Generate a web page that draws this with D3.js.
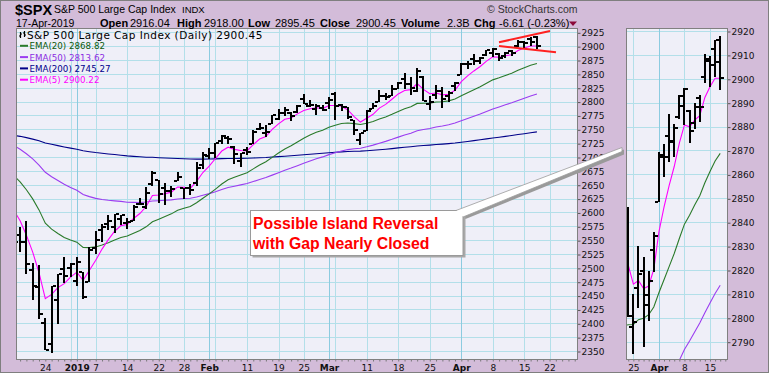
<!DOCTYPE html>
<html>
<head>
<meta charset="utf-8">
<script src="https://cdn.jsdelivr.net/npm/d3@7"></script>
<style>
html, body { margin: 0; padding: 0; background: #fff; }
svg { display: block; }
</style>
</head>
<body>
<div id="chart"></div>
<script>
// daily bars, Dec 17 2018 .. Apr 17 2019
var dates = ["2018-12-17","2018-12-18","2018-12-19","2018-12-20","2018-12-21","2018-12-24","2018-12-26","2018-12-27","2018-12-28","2018-12-31",
  "2019-01-02","2019-01-03","2019-01-04","2019-01-07","2019-01-08","2019-01-09","2019-01-10","2019-01-11","2019-01-14","2019-01-15","2019-01-16","2019-01-17","2019-01-18","2019-01-22","2019-01-23","2019-01-24","2019-01-25","2019-01-28","2019-01-29","2019-01-30","2019-01-31",
  "2019-02-01","2019-02-04","2019-02-05","2019-02-06","2019-02-07","2019-02-08","2019-02-11","2019-02-12","2019-02-13","2019-02-14","2019-02-15","2019-02-19","2019-02-20","2019-02-21","2019-02-22","2019-02-25","2019-02-26","2019-02-27","2019-02-28",
  "2019-03-01","2019-03-04","2019-03-05","2019-03-06","2019-03-07","2019-03-08","2019-03-11","2019-03-12","2019-03-13","2019-03-14","2019-03-15","2019-03-18","2019-03-19","2019-03-20","2019-03-21","2019-03-22","2019-03-25","2019-03-26","2019-03-27","2019-03-28","2019-03-29",
  "2019-04-01","2019-04-02","2019-04-03","2019-04-04","2019-04-05","2019-04-08","2019-04-09","2019-04-10","2019-04-11","2019-04-12","2019-04-15","2019-04-16","2019-04-17"];
// empty sessions still on the time axis
var futureDates = ["2019-04-18","2019-04-22","2019-04-23","2019-04-24","2019-04-25","2019-04-26"];

var open = [2590.75,2559.90,2547.05,2496.77,2465.38,2400.56,2363.12,2442.50,2498.77,2498.94,
  2476.96,2491.92,2474.33,2535.61,2568.11,2580.00,2573.51,2588.11,2580.31,2585.10,2614.75,2609.28,2651.27,2657.88,2643.48,2638.84,2657.44,2644.97,2644.89,2653.62,2685.49,
  2702.32,2706.49,2728.34,2735.05,2717.53,2692.36,2712.40,2722.61,2750.30,2743.50,2760.24,2769.28,2779.05,2780.24,2780.67,2804.35,2792.36,2787.50,2788.11,
  2798.22,2814.37,2794.41,2790.27,2766.53,2730.79,2747.61,2787.34,2799.78,2810.38,2810.79,2822.61,2840.76,2831.34,2819.72,2844.52,2796.01,2812.66,2819.72,2809.40,2828.27,
  2848.63,2868.24,2876.09,2873.99,2884.16,2888.46,2886.58,2881.37,2891.92,2900.86,2908.32,2912.26,2916.04];
var high = [2601.13,2573.99,2585.29,2509.63,2504.41,2410.34,2467.76,2489.10,2520.27,2509.24,
  2519.49,2493.14,2538.07,2566.16,2579.82,2595.32,2597.82,2596.27,2589.32,2613.08,2625.76,2645.06,2675.47,2657.88,2653.19,2647.20,2672.38,2644.97,2650.93,2690.44,2708.95,
  2716.66,2724.99,2738.98,2738.08,2719.32,2708.07,2718.05,2748.19,2761.85,2757.90,2775.66,2787.33,2789.88,2781.58,2794.20,2813.49,2803.12,2795.76,2793.73,
  2808.02,2816.88,2796.44,2790.27,2767.25,2744.13,2784.00,2798.32,2821.24,2815.00,2830.73,2835.41,2852.42,2843.54,2860.31,2846.16,2809.79,2829.87,2825.56,2819.71,2836.03,
  2869.40,2872.90,2885.25,2881.28,2893.24,2895.95,2886.88,2889.71,2893.42,2910.54,2909.60,2916.06,2918.00];
var low = [2530.54,2528.71,2488.96,2441.18,2408.55,2351.10,2346.58,2397.94,2472.89,2482.82,
  2467.47,2443.96,2474.33,2524.56,2547.56,2568.89,2562.02,2577.40,2570.41,2585.10,2612.68,2606.36,2647.58,2617.27,2612.86,2627.01,2657.33,2624.06,2631.05,2648.34,2678.65,
  2696.88,2698.75,2724.03,2724.15,2687.26,2681.83,2703.79,2722.61,2748.63,2736.50,2760.24,2767.29,2774.06,2764.55,2779.11,2794.99,2789.47,2775.13,2782.51,
  2787.38,2767.66,2782.97,2768.69,2739.09,2722.27,2747.61,2786.73,2799.78,2803.46,2810.79,2821.99,2823.27,2812.43,2817.38,2800.47,2785.02,2803.99,2787.72,2798.77,2819.23,
  2848.63,2858.75,2865.17,2867.14,2882.99,2880.78,2873.33,2879.13,2881.99,2898.37,2896.48,2900.71,2895.45];
var close = [2545.94,2546.16,2506.96,2467.42,2416.62,2351.10,2467.70,2488.83,2485.74,2506.85,
  2510.03,2447.89,2531.94,2549.69,2574.41,2584.96,2596.64,2596.26,2582.61,2610.30,2616.10,2635.96,2670.71,2632.90,2638.70,2642.33,2664.76,2643.85,2640.00,2681.05,2704.10,
  2706.53,2724.87,2737.70,2731.61,2706.05,2707.88,2709.80,2744.73,2753.03,2745.73,2775.60,2779.76,2784.70,2774.88,2792.67,2796.11,2793.90,2792.38,2784.49,
  2803.69,2792.81,2789.65,2771.45,2748.93,2743.07,2783.30,2791.52,2810.92,2808.48,2822.48,2832.94,2832.57,2824.23,2854.88,2800.71,2798.36,2818.46,2805.37,2815.44,2834.40,
  2867.19,2867.24,2873.40,2879.39,2892.74,2895.77,2878.20,2888.21,2888.32,2907.41,2905.58,2907.06,2900.45];

var ema5 = [2604.4,2585.0,2559.0,2528.5,2491.2,2444.5,2452.2,2464.4,2471.5,2483.3,
  2492.2,2477.4,2495.6,2513.6,2533.9,2550.9,2566.1,2576.2,2578.3,2589.0,2598.0,2610.7,2630.7,2631.4,2633.8,2636.6,2646.0,2645.3,2643.5,2656.0,2672.0,
  2683.5,2697.3,2710.8,2717.7,2713.8,2711.8,2711.1,2722.3,2732.5,2736.9,2749.8,2759.8,2768.1,2770.4,2777.8,2783.9,2787.2,2788.9,2787.4,
  2792.8,2792.8,2791.7,2784.9,2772.9,2763.0,2769.8,2777.0,2788.3,2795.0,2804.2,2813.8,2820.1,2821.5,2832.6,2822.0,2814.1,2815.6,2812.2,2813.3,2820.3,
  2835.9,2846.3,2855.3,2863.3,2873.1,2880.7,2879.9,2882.7,2884.6,2892.2,2896.7,2900.2,2900.2];
var ema20 = [2666.4,2655.0,2640.9,2624.4,2604.6,2580.5,2569.8,2562.1,2554.8,2550.2,
  2546.4,2537.0,2536.5,2537.8,2541.3,2545.5,2550.4,2554.8,2557.4,2562.4,2567.5,2574.0,2583.2,2587.9,2592.7,2597.4,2603.8,2607.6,2610.7,2617.4,2625.7,
  2633.4,2642.1,2651.2,2658.9,2663.4,2667.6,2671.6,2678.6,2685.7,2691.4,2699.4,2707.1,2714.5,2720.3,2727.2,2733.8,2739.5,2744.5,2748.3,
  2753.6,2757.3,2760.4,2761.4,2760.2,2758.6,2761.0,2763.9,2768.4,2772.2,2777.0,2782.3,2787.1,2790.6,2796.7,2797.1,2797.2,2799.2,2799.8,2801.3,2804.5,
  2810.5,2815.9,2821.4,2826.9,2833.2,2839.2,2842.9,2847.2,2851.1,2856.5,2861.2,2865.6,2868.8];
var ema50 = [2720.8,2714.0,2705.9,2696.5,2685.5,2672.4,2664.4,2657.5,2650.8,2645.2,
  2639.9,2632.4,2628.5,2625.4,2623.4,2621.9,2620.9,2619.9,2618.4,2618.1,2618.0,2618.7,2620.7,2621.2,2621.9,2622.7,2624.3,2625.1,2625.7,2627.9,2630.9,
  2633.9,2637.5,2641.4,2644.9,2647.3,2649.7,2652.1,2655.7,2659.5,2662.9,2667.3,2671.7,2676.1,2680.0,2684.4,2688.8,2692.9,2696.8,2700.2,
  2704.3,2707.8,2711.0,2713.4,2714.8,2715.9,2718.5,2721.4,2724.9,2728.2,2731.9,2735.9,2739.7,2743.0,2747.4,2749.5,2751.4,2754.0,2756.0,2758.3,2761.3,
  2765.5,2769.5,2773.6,2777.7,2782.2,2786.7,2790.3,2794.1,2797.8,2802.1,2806.2,2810.2,2813.6];
var ema200 = [2739.2,2737.3,2735.0,2732.3,2729.2,2725.4,2722.9,2720.5,2718.2,2716.1,
  2714.1,2711.4,2709.6,2708.0,2706.7,2705.5,2704.4,2703.3,2702.1,2701.2,2700.4,2699.7,2699.5,2698.8,2698.2,2697.7,2697.3,2696.8,2696.3,2696.1,2696.2,
  2696.3,2696.6,2697.0,2697.3,2697.4,2697.5,2697.7,2698.1,2698.7,2699.1,2699.9,2700.7,2701.5,2702.3,2703.2,2704.1,2705.0,2705.9,2706.7,
  2707.6,2708.5,2709.3,2709.9,2710.3,2710.6,2711.4,2712.2,2713.2,2714.1,2715.2,2716.4,2717.5,2718.6,2719.9,2720.7,2721.5,2722.5,2723.3,2724.2,2725.3,
  2726.7,2728.1,2729.6,2731.1,2732.7,2734.3,2735.7,2737.3,2738.8,2740.5,2742.1,2743.7,2745.3];

var priceTicks = [2350,2375,2400,2425,2450,2475,2500,2525,2550,2575,2600,2625,2650,2675,2700,2725,2750,2775,2800,2825,2850,2875,2900,2925];
var zoomTicks = [2790,2800,2810,2820,2830,2840,2850,2860,2870,2880,2890,2900,2910,2920];

var labelDates = ["2018-12-24","2019-01-02","2019-01-07","2019-01-14","2019-01-22","2019-01-28","2019-02-01","2019-02-11","2019-02-19","2019-02-25","2019-03-01","2019-03-11","2019-03-18","2019-03-25","2019-04-01","2019-04-08","2019-04-15","2019-04-22"];
var labelText = ["24","2019","7","14","22","28","Feb","11","19","25","Mar","11","18","25","Apr","8","15","22"];
var weekLines = ["2018-12-31","2019-01-07","2019-01-14","2019-01-22","2019-01-28","2019-02-04","2019-02-11","2019-02-19","2019-02-25","2019-03-04","2019-03-11","2019-03-18","2019-03-25","2019-04-08","2019-04-15","2019-04-22"];
var monthLines = ["2019-01-02","2019-02-01","2019-03-01","2019-04-01"];
var zoomLabelDates = ["2019-03-25","2019-04-01","2019-04-08","2019-04-15"];
var zoomLabelText = ["25","Apr","8","15"];
var boldLabels = ["2019","Feb","Mar","Apr"];

var emaNames = ["EMA(20) 2868.82","EMA(50) 2813.62","EMA(200) 2745.27","EMA(5) 2900.22"];
var emaColors = ["#2a7a2a","#9b3df0","#000088","#ff00ff"];
var emaTextColors = ["#0b5a0b","#8b2be2","#00008b","#ff00ff"];

var W = 770, H = 376;
var allDates = dates.concat(futureDates);
function k(d) { return allDates.indexOf(d); }

var svg = d3.select("#chart").append("svg")
    .attr("width", W)
    .attr("height", H);

svg.append("rect")
    .attr("x", 0.5).attr("y", 0.5)
    .attr("width", 768).attr("height", 372)
    .style("fill", "#d3bcd9")
    .style("stroke", "#7f7f7f");

var sans = "'Liberation Sans', Arial, sans-serif",
    verd = "'DejaVu Sans', Verdana, sans-serif";

// scales
var x = d3.scaleLinear().domain([0.35, 89.36]).range([16, 577]);
var y = d3.scaleLinear().domain([2350, 2925]).range([351, 32.3]);
var x2 = d3.scaleLinear().domain([64.56, 84.33]).range([626, 727]);
var y2 = d3.scaleLinear().domain([2790, 2920]).range([341.7, 31]);

var panelTop = 28.5, panelBottom = 359.5;

function panel(id, xs, ys, ticks, gridDates, monthDates) {
    var x0 = xs.range()[0], x1 = xs.range()[1];
    svg.append("clipPath").attr("id", id)
        .append("rect").attr("x", x0 + 1).attr("y", panelTop).attr("width", x1 - x0 - 1).attr("height", panelBottom - panelTop);
    svg.append("rect")
        .attr("x", x0 + 0.5).attr("y", panelTop)
        .attr("width", x1 - x0).attr("height", panelBottom - panelTop)
        .style("fill", "#efeff8");
    var g = svg.append("g").attr("clip-path", "url(#" + id + ")");
    g.selectAll(".hgrid").data(ticks).enter().append("line")
        .attr("x1", x0).attr("x2", x1)
        .attr("y1", function (d) { return Math.round(ys(d)) + 0.5; })
        .attr("y2", function (d) { return Math.round(ys(d)) + 0.5; })
        .style("stroke", "#b3dfe9");
    g.selectAll(".vgrid").data(gridDates).enter().append("line")
        .attr("x1", function (d) { return Math.round(xs(k(d))) + 0.5; })
        .attr("x2", function (d) { return Math.round(xs(k(d))) + 0.5; })
        .attr("y1", panelTop).attr("y2", panelBottom)
        .style("stroke", "#b3dfe9");
    g.selectAll(".mgrid").data(monthDates).enter().append("line")
        .attr("x1", function (d) { return Math.round(xs(k(d))) + 0.5; })
        .attr("x2", function (d) { return Math.round(xs(k(d))) + 0.5; })
        .attr("y1", panelTop).attr("y2", panelBottom)
        .style("stroke", "#8ccbe0");
    return g;
}

function drawPrices(g, xs, ys) {
    var series = [ema200, ema50, ema20, ema5];
    var cols = [emaColors[2], emaColors[1], emaColors[0], emaColors[3]];
    series.forEach(function (s, j) {
        g.append("path")
            .datum(s)
            .attr("d", d3.line()
                .x(function (d, i) { return xs(i); })
                .y(function (d) { return ys(d); }))
            .style("fill", "none")
            .style("stroke", cols[j])
            .style("stroke-width", 1.1);
    });
    var bars = g.selectAll(".bar").data(dates).enter().append("g").attr("class", "bar");
    function bx(i) { return Math.round(xs(i)); }
    bars.append("line")
        .attr("x1", function (d, i) { return bx(i); })
        .attr("x2", function (d, i) { return bx(i); })
        .attr("y1", function (d, i) { return Math.round(ys(high[i])); })
        .attr("y2", function (d, i) { return Math.round(ys(low[i])); });
    bars.append("line")
        .attr("x1", function (d, i) { return bx(i) - 4; })
        .attr("x2", function (d, i) { return bx(i) - 1; })
        .attr("y1", function (d, i) { return Math.round(ys(open[i])); })
        .attr("y2", function (d, i) { return Math.round(ys(open[i])); });
    bars.append("line")
        .attr("x1", function (d, i) { return bx(i) + 1; })
        .attr("x2", function (d, i) { return bx(i) + 4; })
        .attr("y1", function (d, i) { return Math.round(ys(close[i])); })
        .attr("y2", function (d, i) { return Math.round(ys(close[i])); });
    bars.selectAll("line").style("stroke", "#000").style("stroke-width", 2);
}

function axes(xs, ys, ticks, lblDates, lblText) {
    var x0 = xs.range()[0], x1 = xs.range()[1];
    var ya = svg.append("g")
        .attr("transform", "translate(" + (x1 + 0.5) + ",0.5)")
        .call(d3.axisRight(ys).tickValues(ticks).tickSize(3).tickPadding(1).tickFormat(d3.format("d")));
    ya.select(".domain").remove();
    ya.selectAll("line").style("stroke", "#555");
    ya.selectAll("text").style("font-family", verd).style("font-size", "9px").style("fill", "#111");

    var days = d3.range(Math.ceil(xs.domain()[0]), Math.floor(xs.domain()[1]) + 1);
    var minor = svg.append("g")
        .attr("transform", "translate(0," + panelBottom + ")")
        .call(d3.axisBottom(xs).tickValues(days).tickSize(2).tickFormat(""));
    minor.select(".domain").remove();
    minor.selectAll("line").style("stroke", "#777");

    var lab = svg.append("g")
        .attr("transform", "translate(0," + panelBottom + ")")
        .call(d3.axisBottom(xs).tickValues(lblDates.map(k)).tickSize(0).tickPadding(5)
            .tickFormat(function (d, i) { return lblText[i]; }));
    lab.select(".domain").remove();
    lab.selectAll("text")
        .style("font-family", verd)
        .style("font-size", "9px")
        .style("fill", "#111")
        .style("font-weight", function (d, i) { return boldLabels.indexOf(lblText[i]) >= 0 ? "bold" : "normal"; });

    svg.append("rect")
        .attr("x", x0 + 0.5).attr("y", panelTop)
        .attr("width", x1 - x0).attr("height", panelBottom - panelTop)
        .style("fill", "none")
        .style("stroke", "#808080");
}

// main panel
var gm = panel("clipMain", x, y, priceTicks, weekLines, monthLines);
drawPrices(gm, x, y);
axes(x, y, priceTicks, labelDates, labelText);

// zoomed panel on the right
var zWeek = zoomLabelDates.filter(function (d) { return monthLines.indexOf(d) < 0; });
var gz = panel("clipZoom", x2, y2, zoomTicks, zWeek, ["2019-04-01"]);
drawPrices(gz, x2, y2);
axes(x2, y2, zoomTicks, zoomLabelDates, zoomLabelText);

// header
function txt(t, xx, yy, size, weight, fam, col) {
    return svg.append("text").attr("x", xx).attr("y", yy).text(t)
        .style("font-family", fam || sans)
        .style("font-size", size + "px")
        .style("font-weight", weight || "normal")
        .style("fill", col || "#000");
}
txt("$SPX", 15, 15, 14.5, "bold");
txt("S&P 500 Large Cap Index", 54, 13, 10.5);
txt("INDX", 182, 13, 9.5);
txt("\u00a9 StockCharts.com", 487, 13, 10.5, "normal", sans, "#333");
txt("17-Apr-2019", 16, 26.5, 10.5);
var hdr = [["Open", 100, 1], ["2916.04", 130, 0], ["High", 177, 1], ["2918.00", 204, 0], ["Low", 248, 1], ["2895.45", 275, 0],
    ["Close", 320, 1], ["2900.45", 356, 0], ["Volume", 401, 1], ["2.3B", 447, 0], ["Chg", 474, 1], ["-6.61 (-0.23%)", 499, 0]];
hdr.forEach(function (h) { txt(h[0], h[1], 26.5, 11, h[2] ? "bold" : "normal"); });
svg.append("path").attr("d", "M569,21.5L577,21.5L573,26Z").style("fill", "#8b0a3a");

// legend inside the main panel
svg.append("path")
    .attr("d", "M20.5,32V38M19,36H20.5M20.5,34H22M24.5,31V37M23,33H24.5M24.5,35H26")
    .style("fill", "none").style("stroke", "#000").style("stroke-width", 1.2);
txt("S&P 500 Large Cap Index (Daily) 2900.45", 27, 38.7, 10.5, "normal", verd).style("letter-spacing", "0.45px");
emaNames.forEach(function (n, i) {
    var by = 49.3 + i * 11.3;
    svg.append("line").attr("x1", 20).attr("x2", 28).attr("y1", by - 3.5).attr("y2", by - 3.5)
        .style("stroke", emaColors[i]).style("stroke-width", 2);
    txt(n, 29.5, by, 8.7, "normal", verd, emaTextColors[i]);
});

// trend lines drawn on the chart
svg.append("line").attr("x1", 499).attr("y1", 42.3).attr("x2", 550).attr("y2", 31)
    .style("stroke", "#ff2020").style("stroke-width", 2);
svg.append("line").attr("x1", 499).attr("y1", 46).attr("x2", 556).attr("y2", 52.3)
    .style("stroke", "#ff2020").style("stroke-width", 2);

// annotation box with pointer
svg.append("path").attr("d", "M458,212.5L624,149.5L624,154.5L465.5,219Z").style("fill", "#9a9a9a");
svg.append("rect").attr("x", 252.5).attr("y", 212).attr("width", 213).attr("height", 45.5).style("fill", "#a8a8a8");
svg.append("rect").attr("x", 250.5).attr("y", 210.5).attr("width", 212.5).attr("height", 45)
    .style("fill", "#fff").style("stroke", "#9a9a9a");
svg.append("path").attr("d", "M456,210.5L622,147.5L622,151.5L463,217Z")
    .style("fill", "#fff").style("stroke", "#9a9a9a").style("stroke-width", 0.8);
svg.append("rect").attr("x", 455).attr("y", 211).attr("width", 7.5).attr("height", 6).style("fill", "#fff");
txt("Possible Island Reversal", 253, 228.5, 15.8, "bold", sans, "#ff0000");
txt("with Gap Nearly Closed", 253, 248.5, 15.8, "bold", sans, "#ff0000");
</script>
</body>
</html>
